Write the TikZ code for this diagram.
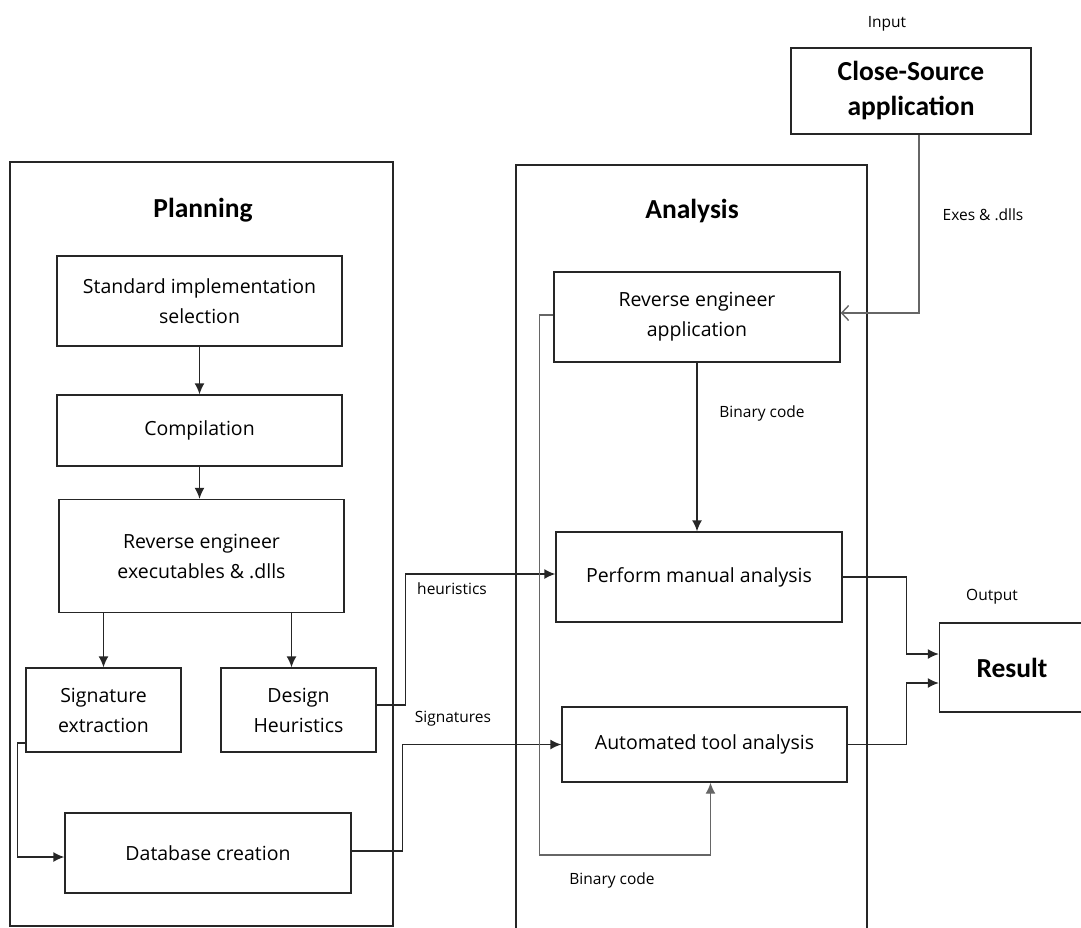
\documentclass[tikz,border=0pt]{standalone}
\usepackage{fontspec}
\setmainfont{Open Sans}
\newfontfamily\headfont{Carlito}
\usetikzlibrary{arrows.meta}

\begin{document}
\begin{tikzpicture}[x=1pt,y=-1pt,
    box/.style={draw=black!85,line width=1.4pt,align=center,inner sep=0pt,
      font=\fontsize{19.5}{30}\selectfont},
    frame/.style={draw=black!85,line width=1.4pt},
    head/.style={font=\headfont\bfseries\fontsize{27.5}{35}\selectfont,align=center},
    tag/.style={font=\fontsize{15.5}{18}\selectfont},
    wire/.style={line width=1.4pt,draw=black!85},
    greywire/.style={line width=1.4pt,draw=black!60},
    flow/.style={-{Latex[length=11pt,width=10pt]}},
    barb/.style={-{Straight Barb[length=7pt,width=15pt]}}]
   \useasboundingbox (0,0) rectangle (1081,927);
   % frames
   \draw[frame] (10,162) rectangle (393,926);
   \draw[frame] (516,165) rectangle (867,935);
   \node[head] (planhead) at (203,210) {Planning};
   \node[head] (anahead) at (692,211) {Analysis};

   % planning side
   \node[box,minimum width=285,minimum height=90] (std) at (199.5,301) {Standard implementation\\selection};
   \node[box,minimum width=285,minimum height=71] (comp) at (199.5,430.5) {Compilation};
   \node[box,minimum width=285,minimum height=113] (rev) at (201.5,556) {Reverse engineer\\executables \& .dlls};
   \node[box,minimum width=155,minimum height=84] (sig) at (103.5,710) {Signature\\extraction};
   \node[box,minimum width=155,minimum height=84] (des) at (298.5,710) {Design\\Heuristics};
   \node[box,minimum width=286,minimum height=80] (db) at (208,853) {Database creation};

   % analysis side
   \node[box,minimum width=286,minimum height=90] (rea) at (697,317) {Reverse engineer\\application};
   \node[box,minimum width=286,minimum height=90] (man) at (699,577) {Perform manual analysis};
   \node[box,minimum width=285,minimum height=75] (auto) at (704.5,744.5) {Automated tool analysis};

   % input / output
   \node[box,head,minimum width=240,minimum height=86] (src) at (911,91) {Close-Source\\application};
   \node[box,head,minimum width=145,minimum height=89] (res) at (1012,667.5) {Result};
   \node[tag] (inlab) at (887,24) {Input};
   \node[tag] (outlab) at (992,597) {Output};

   % connectors
   \draw[wire,flow] (std) -- (comp);
   \draw[wire,flow] (comp.south) -- (comp.south |- rev.north);
   \draw[wire,flow] (rev.south -| sig.north) -- (sig.north);
   \draw[wire,flow] ([xshift=-7pt]des.north |- rev.south) -- ([xshift=-7pt]des.north);
   \draw[wire,flow] ([yshift=-33pt]sig.west) -- ++(-8,0) |- ([yshift=-4pt]db.west);
   \draw[wire,flow] ([yshift=5pt]des.east) -- ++(29,0) |- ([yshift=3pt]man.west);
   \draw[wire,flow] ([yshift=2pt]db.east) -- ++(51,0) |- (auto.west);
   \draw[greywire,barb] ([xshift=8pt]src.south) |- ([yshift=4pt]rea.east);
   \draw[wire,flow] (rea.south) -- (rea.south |- man.north);
   \draw[greywire,flow] ([yshift=2pt]rea.west) -- ++(-14,0) -- ++(0,540) -| ([xshift=6pt]auto.south);
   \draw[wire,flow] (man.east) -- ++(64,0) |- ([yshift=13.5pt]res.west);
   \draw[wire,flow] (auto.east) -- ++(59,0) |- ([yshift=-15.5pt]res.west);

   % connector labels
   \node[tag] (exlab) at (983,215) {Exes \& .dlls};
   \node[tag] (binup) at (762,413) {Binary code};
   \node[tag] (heulab) at (452,589) {heuristics};
   \node[tag] (siglab) at (453,719) {Signatures};
   \node[tag] (bindown) at (612,880) {Binary code};
\end{tikzpicture}
\end{document}
